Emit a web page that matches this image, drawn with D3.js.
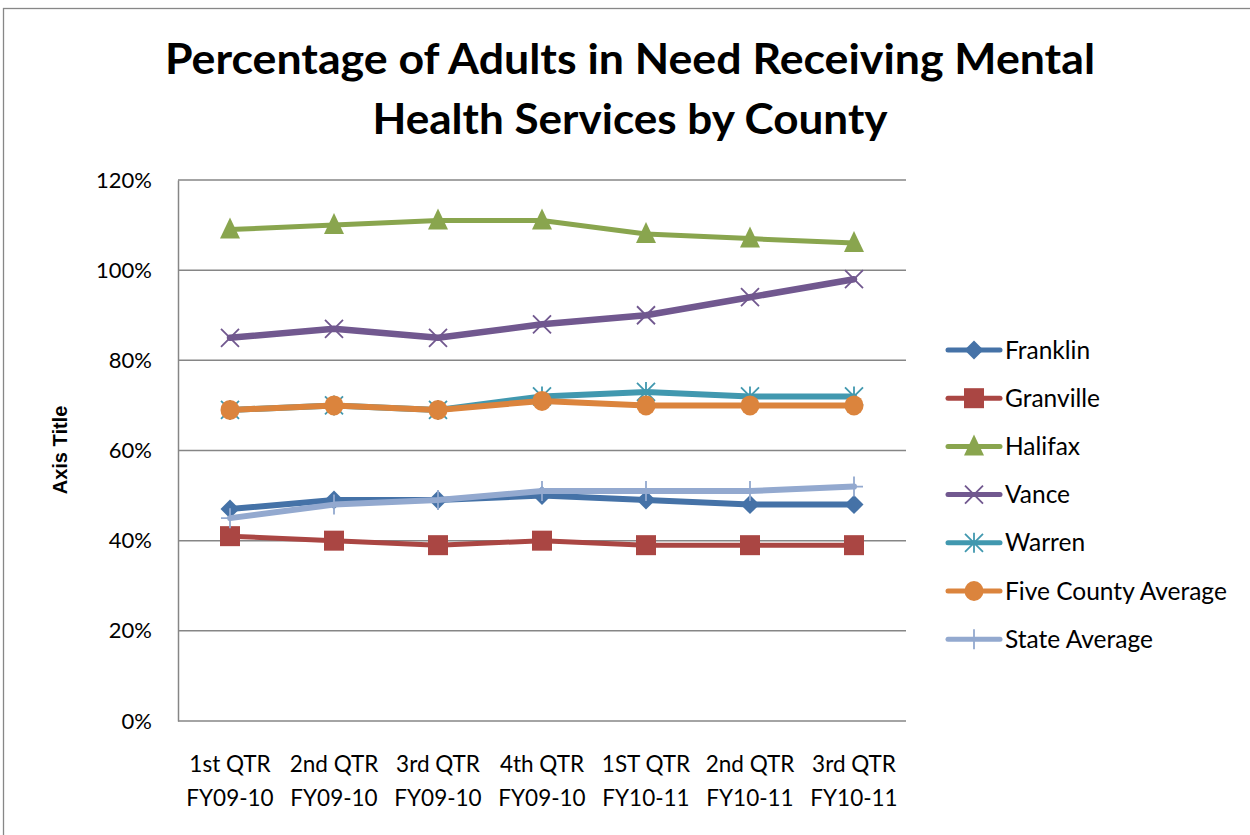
<!DOCTYPE html>
<html><head><meta charset="utf-8">
<script src="https://cdn.jsdelivr.net/npm/d3@7"></script>
<style>html,body{margin:0;padding:0;background:#fff;}svg{display:block;}</style>
</head><body>
<svg id="c" width="1250" height="835"></svg>
<script>
const categories = [["1st QTR","FY09-10"],["2nd QTR","FY09-10"],["3rd QTR","FY09-10"],["4th QTR","FY09-10"],["1ST QTR","FY10-11"],["2nd QTR","FY10-11"],["3rd QTR","FY10-11"]];
const franklin = [47, 49, 49, 50, 49, 48, 48];
const granville = [41, 40, 39, 40, 39, 39, 39];
const halifax = [109, 110, 111, 111, 108, 107, 106];
const vance = [85, 87, 85, 88, 90, 94, 98];
const warren = [69, 70, 69, 72, 73, 72, 72];
const fiveCounty = [69, 70, 69, 71, 70, 70, 70];
const stateAvg = [45, 48, 49, 51, 51, 51, 52];
const yTicks = [0, 20, 40, 60, 80, 100, 120];
const seriesNames = ["Franklin","Granville","Halifax","Vance","Warren","Five County Average","State Average"];
const seriesColors = ["#4572a7","#aa4643","#89a54e","#71588f","#4198af","#db843d","#93a9cf"];
const seriesMarkers = ["diamond","square","triangle","x","star","circle","plus"];
const seriesValues = [franklin, granville, halifax, vance, warren, fiveCounty, stateAvg];

const svg = d3.select("#c");
const L = 178, R = 906, T = 180, B = 721;
const x = d3.scaleBand().domain(d3.range(categories.length)).range([L, R]);
const y = d3.scaleLinear().domain([0, 120]).range([B, T]);
const FONT = "Lato, 'Open Sans', sans-serif";

// outer border
svg.append("rect").attr("x",3.5).attr("y",8.5).attr("width",1260).attr("height",840)
  .attr("fill","#fff").attr("stroke","#878787").attr("stroke-width",1.3);

// title
const title = svg.append("g").attr("font-family",FONT).attr("font-weight","bold").attr("font-size",42).attr("fill","#000").attr("text-anchor","middle");
title.append("text").attr("x",630).attr("y",74).attr("textLength",930).attr("lengthAdjust","spacingAndGlyphs").text("Percentage of Adults in Need Receiving Mental");
title.append("text").attr("x",630).attr("y",134).attr("textLength",515).attr("lengthAdjust","spacingAndGlyphs").text("Health Services by County");

// gridlines
svg.append("g").selectAll("line").data(yTicks.filter(d=>d>0)).join("line")
  .attr("x1",L).attr("x2",R).attr("y1",d=>y(d)).attr("y2",d=>y(d))
  .attr("stroke","#868686").attr("stroke-width",1.5);

// y axis
const yAxis = svg.append("g").attr("transform",`translate(${L},0)`)
  .call(d3.axisLeft(y).tickValues(yTicks).tickSize(0).tickPadding(26).tickFormat(d=>d+"%"));
yAxis.select(".domain").attr("stroke","#868686").attr("stroke-width",1.5);
yAxis.selectAll("text").attr("font-family",FONT).attr("font-size",22).attr("fill","#000");

// x axis baseline
svg.append("line").attr("x1",L).attr("x2",R).attr("y1",B).attr("y2",B).attr("stroke","#868686").attr("stroke-width",1.5);

// x labels
const xl = svg.append("g").attr("font-family",FONT).attr("font-size",22.5).attr("fill","#000").attr("text-anchor","middle");
categories.forEach((c,i)=>{
  const cx = x(i)+x.bandwidth()/2;
  xl.append("text").attr("x",cx).attr("y",772).text(c[0]);
  xl.append("text").attr("x",cx).attr("y",806).text(c[1]);
});

// axis title
svg.append("text").attr("transform","translate(67,450) rotate(-90)").attr("text-anchor","middle")
  .attr("font-family","'Liberation Sans', Arial, sans-serif").attr("font-weight","bold").attr("font-size",20).text("Axis Title");

function drawMarker(g, type, cx, cy, color){
  if(type==="diamond"){
    g.append("path").attr("d",`M${cx},${cy-9.5}L${cx+9.5},${cy}L${cx},${cy+9.5}L${cx-9.5},${cy}Z`).attr("fill",color);
  } else if(type==="square"){
    g.append("rect").attr("x",cx-10).attr("y",cy-10).attr("width",20).attr("height",20).attr("fill",color);
  } else if(type==="triangle"){
    g.append("path").attr("d",`M${cx},${cy-12}L${cx+10},${cy+9}L${cx-10},${cy+9}Z`).attr("fill",color);
  } else if(type==="x"){
    g.append("path").attr("d",`M${cx-9},${cy-9}L${cx+9},${cy+9}M${cx-9},${cy+9}L${cx+9},${cy-9}`).attr("stroke",color).attr("stroke-width",1.8);
  } else if(type==="star"){
    g.append("path").attr("d",`M${cx-9},${cy-9}L${cx+9},${cy+9}M${cx-9},${cy+9}L${cx+9},${cy-9}M${cx},${cy-10}L${cx},${cy+10}`).attr("stroke",color).attr("stroke-width",1.8);
  } else if(type==="circle"){
    g.append("ellipse").attr("cx",cx).attr("cy",cy).attr("rx",9.5).attr("ry",10).attr("fill",color);
  } else if(type==="plus"){
    g.append("path").attr("d",`M${cx},${cy-10}L${cx},${cy+10}M${cx-9},${cy}L${cx+9},${cy}`).attr("stroke",color).attr("stroke-width",1.8);
  }
}

const line = d3.line().x((d,i)=>x(i)+x.bandwidth()/2).y(d=>y(d));
const lineWidths = [6, 5, 5, 6.5, 6, 6, 6];
seriesValues.forEach((vals,k)=>{
  const g = svg.append("g");
  g.append("path").datum(vals).attr("d",line).attr("fill","none").attr("stroke",seriesColors[k])
    .attr("stroke-width",lineWidths[k]).attr("stroke-linejoin","round").attr("stroke-linecap","round");
  vals.forEach((v,i)=>drawMarker(g, seriesMarkers[k], x(i)+x.bandwidth()/2, y(v), seriesColors[k]));
});

// legend
const leg = svg.append("g");
seriesNames.forEach((n,k)=>{
  const ly = 350 + k*48.2;
  leg.append("line").attr("x1",948).attr("x2",1000).attr("y1",ly).attr("y2",ly).attr("stroke",seriesColors[k]).attr("stroke-width",5).attr("stroke-linecap","round");
  drawMarker(leg, seriesMarkers[k], 974, ly, seriesColors[k]);
  leg.append("text").attr("x",1005).attr("y",ly+8.5).attr("font-family",FONT).attr("font-size",24.5).attr("fill","#000").text(n);
});
</script>
</body></html>
